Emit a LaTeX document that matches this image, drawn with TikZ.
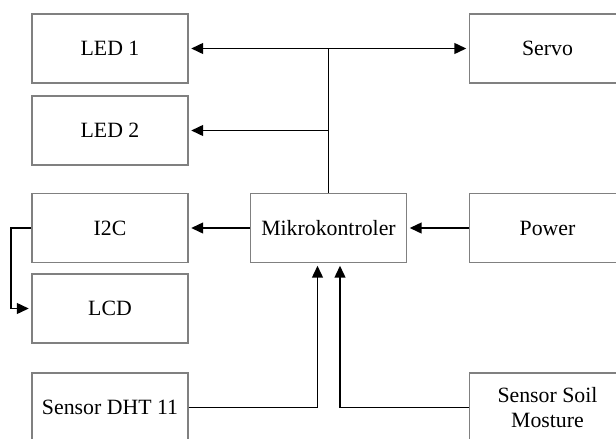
\documentclass[tikz,border=0pt]{standalone}
\usepackage{fontspec}
\setmainfont{Liberation Serif}
\usepackage{tikz}
\usetikzlibrary{arrows.meta,positioning,calc}

\begin{document}
\begin{tikzpicture}[
  x=0.5pt, y=-0.5pt,
  block/.style={draw=black!50, line width=0.6pt, minimum width=78pt, minimum height=34.5pt, inner sep=0pt, align=center, font=\fontsize{10.9}{12.5}\selectfont},
  link/.style={draw=black, line width=0.95pt},
  linkarrow/.style={link, -{Triangle[length=6pt,width=5.4pt]}, shorten >=1.3pt}
]
  \clip (0,0) rectangle (616,439);
  \fill[white] (0,0) rectangle (616,439);
  % blocks
  \foreach \name/\x/\y/\txt in {
    led1/110/48.5/LED 1, led2/110/130.5/LED 2, i2c/110/228/I2C, lcd/110/308.5/LCD,
    dht/110/407.5/Sensor DHT 11, mcu/328.5/228/Mikrokontroler,
    servo/547.5/48.5/Servo, power/547.5/228/Power, soil/547.5/407.5/Sensor Soil\\Mosture
  } {
    \node[block] (\name) at (\x,\y) {\txt};
  }
  \coordinate (j1) at (mcu.north |- led1.east);
  \coordinate (j2) at (mcu.north |- led2.east);
  \coordinate (in1) at ([xshift=-5.5pt]mcu.south);
  \coordinate (in2) at ([xshift=5.75pt]mcu.south);
  % outputs
  \draw[link] (mcu.north) -- (j1);
  \draw[linkarrow] (j1) -- (led1.east);
  \draw[linkarrow] (j1) -- (servo.west);
  \draw[linkarrow] (j2) -- (led2.east);
  \draw[linkarrow] (mcu.west) -- (i2c.east);
  \draw[linkarrow] (i2c.west) -- ++(-20,0) |- (lcd.west);
  % inputs
  \draw[linkarrow] (power.west) -- (mcu.east);
  \draw[linkarrow] (dht.east) -| (in1);
  \draw[linkarrow] (soil.west) -| (in2);
\end{tikzpicture}
\end{document}
